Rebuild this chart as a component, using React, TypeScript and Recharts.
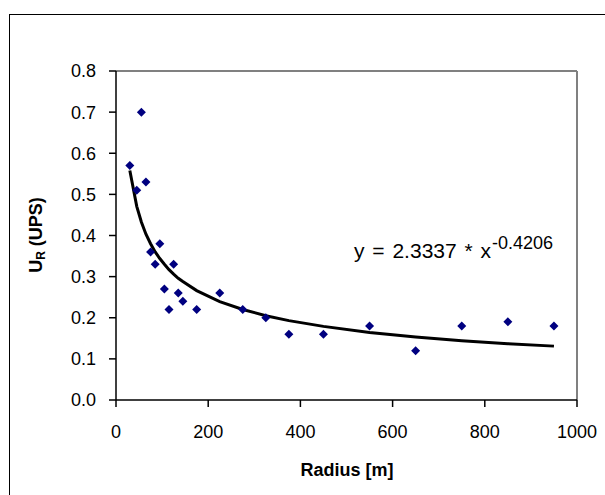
import React from 'react';
import {
  ComposedChart,
  Line,
  Scatter,
  XAxis,
  YAxis,
  ReferenceLine,
  Customized,
} from 'recharts';

// measured points (radius in m, U_R in UPS)
const radius = [30, 45, 55, 65, 75, 85, 95, 105, 115, 125, 135, 145, 175, 225, 275, 325, 375, 450, 550, 650, 750, 850, 950];
const ups = [0.57, 0.51, 0.7, 0.53, 0.36, 0.33, 0.38, 0.27, 0.22, 0.33, 0.26, 0.24, 0.22, 0.26, 0.22, 0.2, 0.16, 0.16, 0.18, 0.12, 0.18, 0.19, 0.18];
// power trendline as drawn, at the same radii
const trend = [0.558, 0.471, 0.433, 0.403, 0.38, 0.36, 0.344, 0.33, 0.317, 0.306, 0.296, 0.288, 0.266, 0.239, 0.22, 0.205, 0.193, 0.179, 0.164, 0.153, 0.144, 0.137, 0.131];

const xTicks = [0, 200, 400, 600, 800, 1000];
const yTicks = [0, 0.1, 0.2, 0.3, 0.4, 0.5, 0.6, 0.7, 0.8];

const font = '"Liberation Sans", Arial, sans-serif';

const points = radius.map((x, i) => ({ x, y: ups[i] }));
const fitData = radius.map((x, i) => ({ x, fit: trend[i] }));

const Diamond = (props: any) => {
  const { cx, cy } = props;
  const r = 4.5;
  return (
    <path
      d={`M${cx},${cy - r}L${cx + r},${cy}L${cx},${cy + r}L${cx - r},${cy}Z`}
      fill="#000080"
    />
  );
};

const Labels = () => (
  <g fontFamily={font} fill="#000">
    <text x={354} y={258} fontSize={21} wordSpacing={2}>
      y = 2.3337 * x
      <tspan dx={1} dy={-9} fontSize={18}>-0.4206</tspan>
    </text>
    <text x={347} y={476} fontSize={18} fontWeight="bold" textAnchor="middle">
      Radius [m]
    </text>
    <text
      transform="translate(42,235) rotate(-90)"
      fontSize={18}
      fontWeight="bold"
      textAnchor="middle"
    >
      U<tspan fontSize={12} dy={3}>R</tspan>
      <tspan dy={-3}> (UPS)</tspan>
    </text>
  </g>
);

export default function App() {
  return (
    <div
      style={{
        position: 'absolute',
        left: 0,
        top: 0,
        width: 605,
        height: 495,
        overflow: 'hidden',
        background: '#fff',
      }}
    >
      <div
        style={{
          position: 'absolute',
          left: 9,
          top: 14,
          width: 700,
          height: 600,
          borderLeft: '1.5px solid #000',
          borderTop: '1.5px solid #000',
        }}
      />
      <ComposedChart
        width={605}
        height={495}
        data={fitData}
        margin={{ top: 71, right: 28, bottom: 65, left: 56 }}
        style={{ position: 'absolute', left: 0, top: 0 }}
      >
        <ReferenceLine y={0.8} stroke="#808080" strokeWidth={2} />
        <ReferenceLine x={1000} stroke="#808080" strokeWidth={2} />
        <XAxis
          type="number"
          dataKey="x"
          domain={[0, 1000]}
          ticks={xTicks}
          height={30}
          tickSize={7}
          tickMargin={18}
          stroke="#000"
          strokeWidth={1.5}
          tick={{ fontSize: 18, fill: '#000', fontFamily: font }}
        />
        <YAxis
          type="number"
          domain={[0, 0.8]}
          ticks={yTicks}
          width={60}
          tickSize={7}
          tickMargin={13}
          stroke="#000"
          strokeWidth={1.5}
          tickFormatter={(v: number) => v.toFixed(1)}
          tick={{ fontSize: 18, fill: '#000', fontFamily: font }}
        />
        <Line
          type="linear"
          dataKey="fit"
          stroke="#000"
          strokeWidth={3}
          dot={false}
          activeDot={false}
          isAnimationActive={false}
        />
        <Scatter
          data={points}
          dataKey="y"
          shape={<Diamond />}
          isAnimationActive={false}
        />
        <Customized component={Labels} />
      </ComposedChart>
    </div>
  );
}
